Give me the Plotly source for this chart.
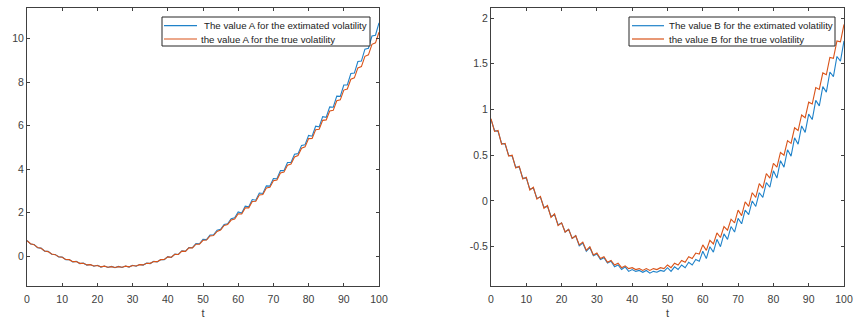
import plotly.graph_objects as go

t = list(range(0, 101))

a_est = [0.72, 0.56, 0.54, 0.39, 0.37, 0.23, 0.22, 0.09, 0.08, -0.04,
         -0.04, -0.16, -0.15, -0.26, -0.24, -0.34, -0.32, -0.41, -0.38, -0.46,
         -0.42, -0.50, -0.45, -0.52, -0.47, -0.53, -0.47, -0.52, -0.45, -0.50,
         -0.42, -0.46, -0.38, -0.41, -0.32, -0.34, -0.24, -0.26, -0.15, -0.16,
         -0.02, -0.06, 0.10, 0.08, 0.25, 0.22, 0.40, 0.39, 0.58, 0.57,
         0.77, 0.76, 0.97, 0.98, 1.19, 1.23, 1.46, 1.49, 1.72, 1.76,
         2.03, 1.98, 2.30, 2.27, 2.60, 2.57, 2.90, 2.88, 3.23, 3.22,
         3.57, 3.56, 3.93, 3.93, 4.30, 4.31, 4.68, 4.71, 5.09, 5.12,
         5.55, 5.51, 5.97, 5.94, 6.41, 6.38, 6.86, 6.84, 7.35, 7.34,
         7.86, 7.87, 8.39, 8.41, 8.94, 8.96, 9.51, 9.55, 10.11, 10.15,
         10.72]

a_true = [0.71, 0.57, 0.53, 0.40, 0.36, 0.24, 0.21, 0.10, 0.07, -0.03,
          -0.05, -0.15, -0.16, -0.25, -0.25, -0.33, -0.33, -0.40, -0.39, -0.45,
          -0.43, -0.49, -0.46, -0.51, -0.48, -0.52, -0.48, -0.51, -0.46, -0.49,
          -0.43, -0.45, -0.39, -0.40, -0.33, -0.33, -0.25, -0.25, -0.16, -0.15,
          -0.03, -0.05, 0.09, 0.08, 0.23, 0.22, 0.38, 0.38, 0.55, 0.55,
          0.73, 0.74, 0.93, 0.95, 1.14, 1.20, 1.41, 1.45, 1.66, 1.71,
          1.95, 1.94, 2.22, 2.22, 2.51, 2.52, 2.81, 2.83, 3.13, 3.16,
          3.47, 3.50, 3.82, 3.86, 4.18, 4.23, 4.56, 4.62, 4.96, 5.02,
          5.40, 5.41, 5.81, 5.83, 6.24, 6.26, 6.67, 6.70, 7.14, 7.18,
          7.63, 7.68, 8.13, 8.19, 8.65, 8.71, 9.18, 9.25, 9.73, 9.80,
          10.29]

b_est = [0.89, 0.77, 0.76, 0.63, 0.62, 0.50, 0.49, 0.37, 0.37, 0.25,
         0.25, 0.13, 0.14, 0.03, 0.04, -0.07, -0.06, -0.17, -0.15, -0.26,
         -0.24, -0.34, -0.31, -0.41, -0.38, -0.49, -0.46, -0.55, -0.51, -0.60,
         -0.58, -0.64, -0.62, -0.68, -0.66, -0.72, -0.70, -0.75, -0.72, -0.77,
         -0.75, -0.77, -0.76, -0.78, -0.76, -0.79, -0.77, -0.78, -0.76, -0.77,
         -0.73, -0.77, -0.72, -0.75, -0.70, -0.73, -0.67, -0.70, -0.64, -0.66,
         -0.55, -0.63, -0.50, -0.56, -0.42, -0.50, -0.36, -0.42, -0.28, -0.34,
         -0.19, -0.25, -0.10, -0.15, 0.00, -0.06, 0.09, 0.04, 0.20, 0.15,
         0.33, 0.25, 0.44, 0.37, 0.56, 0.49, 0.69, 0.62, 0.82, 0.75,
         0.95, 0.89, 1.10, 1.04, 1.25, 1.19, 1.41, 1.36, 1.58, 1.53,
         1.75]

b_true = [0.90, 0.76, 0.77, 0.62, 0.63, 0.49, 0.50, 0.36, 0.38, 0.24,
          0.26, 0.12, 0.15, 0.02, 0.05, -0.08, -0.05, -0.18, -0.14, -0.27,
          -0.24, -0.34, -0.31, -0.41, -0.38, -0.48, -0.45, -0.54, -0.50, -0.59,
          -0.57, -0.63, -0.61, -0.67, -0.65, -0.70, -0.68, -0.73, -0.71, -0.74,
          -0.73, -0.75, -0.74, -0.76, -0.74, -0.76, -0.74, -0.75, -0.73, -0.74,
          -0.70, -0.73, -0.68, -0.70, -0.65, -0.67, -0.61, -0.63, -0.57, -0.58,
          -0.48, -0.54, -0.43, -0.47, -0.35, -0.40, -0.28, -0.32, -0.20, -0.24,
          -0.10, -0.16, -0.01, -0.06, 0.09, 0.04, 0.19, 0.14, 0.30, 0.25,
          0.41, 0.37, 0.53, 0.50, 0.66, 0.63, 0.80, 0.77, 0.94, 0.91,
          1.08, 1.06, 1.24, 1.22, 1.40, 1.38, 1.57, 1.56, 1.75, 1.74,
          1.93]

x_ticks = [0, 10, 20, 30, 40, 50, 60, 70, 80, 90, 100]
a_ticks = [0, 2, 4, 6, 8, 10]
b_ticks = [-0.5, 0, 0.5, 1, 1.5, 2]
b_tick_text = ["-0.5", "0", "0.5", "1", "1.5", "2"]

names_a = ["The value A for the extimated volatility", "the value A for the true volatility"]
names_b = ["The value B for the extimated volatility", "the value B for the true volatility"]

BLUE = "#1f82c9"
ORANGE = "#D95319"
AX = "#404040"
FONT = "Liberation Sans, Arial, sans-serif"
W, H = 855, 323


def px(x):
    return x / W


def py(y):
    return 1 - y / H


fig = go.Figure()
fig.add_trace(go.Scatter(x=t, y=a_est, mode="lines", line=dict(color=BLUE, width=1.1),
                         name=names_a[0], xaxis="x", yaxis="y", showlegend=False))
fig.add_trace(go.Scatter(x=t, y=a_true, mode="lines", line=dict(color=ORANGE, width=1.1),
                         name=names_a[1], xaxis="x", yaxis="y", showlegend=False))
fig.add_trace(go.Scatter(x=t, y=b_est, mode="lines", line=dict(color=BLUE, width=1.1),
                         name=names_b[0], xaxis="x2", yaxis="y2", showlegend=False))
fig.add_trace(go.Scatter(x=t, y=b_true, mode="lines", line=dict(color=ORANGE, width=1.1),
                         name=names_b[1], xaxis="x2", yaxis="y2", showlegend=False))

axis_common = dict(showline=True, linecolor=AX, linewidth=1, mirror="ticks",
                   ticks="inside", ticklen=3, tickcolor=AX, showgrid=False,
                   zeroline=False, tickfont=dict(family=FONT, size=10.5, color=AX))

ydom = [37 / H, 315 / H]

# legend boxes (pixel geometry of the reference)
shapes = []
annotations = []
legends = [
    dict(box=(162, 17, 370, 46), line=(164, 197), text_x=(202, 199), names=names_a),
    dict(box=(629, 17, 835, 46), line=(632, 664), text_x=(667, 667), names=names_b),
]
for lg in legends:
    x0, y0, x1, y1 = lg["box"]
    shapes.append(dict(type="rect", xref="paper", yref="paper",
                       x0=px(x0), x1=px(x1), y0=py(y1), y1=py(y0),
                       line=dict(color="#262626", width=1), fillcolor="white", layer="above"))
    for i, (col, yy) in enumerate([(BLUE, 25.7), (ORANGE, 39.0)]):
        shapes.append(dict(type="line", xref="paper", yref="paper",
                           x0=px(lg["line"][0]), x1=px(lg["line"][1]),
                           y0=py(yy), y1=py(yy), line=dict(color=col, width=1.2),
                           layer="above"))
        annotations.append(dict(xref="paper", yref="paper", x=px(lg["text_x"][i]), y=py(yy),
                                xanchor="left", yanchor="middle", showarrow=False,
                                text=lg["names"][i],
                                font=dict(family=FONT, size=9.7, color="#222222")))

xtitle = dict(text="t", font=dict(size=11, family=FONT, color=AX), standoff=5)

fig.update_layout(
    width=W, height=H,
    margin=dict(l=0, r=0, t=0, b=0, autoexpand=False),
    paper_bgcolor="white", plot_bgcolor="white",
    font=dict(family=FONT, color=AX),
    showlegend=False,
    xaxis=dict(domain=[27 / W, 379 / W], range=[0, 100], tickvals=x_ticks,
               title=xtitle, ticklabelstandoff=3, anchor="y", **axis_common),
    yaxis=dict(domain=ydom, range=[-1.37, 11.4], tickvals=a_ticks, anchor="x",
               **axis_common),
    xaxis2=dict(domain=[491 / W, 844 / W], range=[0, 100], tickvals=x_ticks,
                title=xtitle, ticklabelstandoff=3, anchor="y2", **axis_common),
    yaxis2=dict(domain=ydom, range=[-0.93, 2.11], tickvals=b_ticks, ticktext=b_tick_text,
                anchor="x2", **axis_common),
    shapes=shapes,
    annotations=annotations,
)

fig.write_html("out.html", config={"displayModeBar": False},
               post_script="document.body.style.margin='0';")
